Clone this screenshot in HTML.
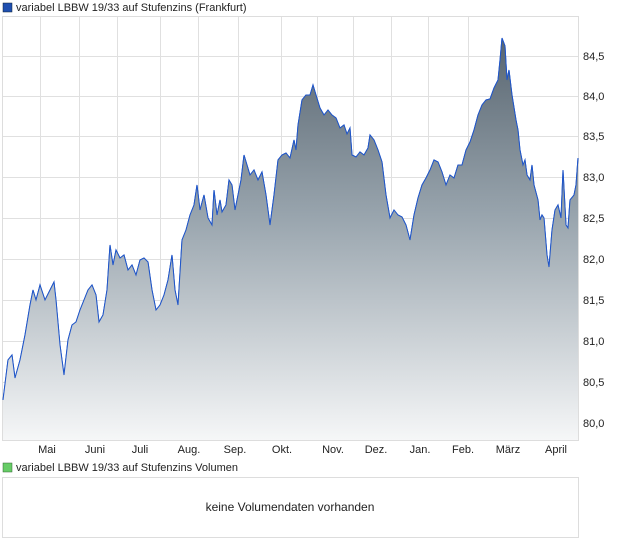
<!DOCTYPE html>
<html><head><meta charset="utf-8"><style>
body{margin:0;background:#fff;font-family:"Liberation Sans",sans-serif;}
</style></head><body>
<svg width="620" height="546" xmlns="http://www.w3.org/2000/svg" font-family="Liberation Sans, sans-serif">
<defs><linearGradient id="g" x1="0" y1="30" x2="0" y2="441" gradientUnits="userSpaceOnUse">
<stop offset="0" stop-color="#56636e"/><stop offset="0.45" stop-color="#98a4ad"/><stop offset="1" stop-color="#f6f7f8"/></linearGradient></defs>
<rect x="3" y="3" width="9" height="9" fill="#1f4fb0" stroke="#123" stroke-width="0.5"/>
<text x="16" y="11" font-size="11" fill="#222">variabel LBBW 19/33 auf Stufenzins (Frankfurt)</text>
<rect x="2.5" y="16.5" width="576" height="424" fill="#fff" stroke="#ddd"/>
<g stroke="#e0e0e0" stroke-width="1">
<line x1="40.5" y1="17" x2="40.5" y2="440"/><line x1="79.5" y1="17" x2="79.5" y2="440"/><line x1="117.5" y1="17" x2="117.5" y2="440"/><line x1="160.5" y1="17" x2="160.5" y2="440"/><line x1="198.5" y1="17" x2="198.5" y2="440"/><line x1="238.5" y1="17" x2="238.5" y2="440"/><line x1="281.5" y1="17" x2="281.5" y2="440"/><line x1="317.5" y1="17" x2="317.5" y2="440"/><line x1="353.5" y1="17" x2="353.5" y2="440"/><line x1="391.5" y1="17" x2="391.5" y2="440"/><line x1="428.5" y1="17" x2="428.5" y2="440"/><line x1="468.5" y1="17" x2="468.5" y2="440"/>
<line x1="3" y1="56.5" x2="578" y2="56.5"/><line x1="3" y1="96.5" x2="578" y2="96.5"/><line x1="3" y1="136.5" x2="578" y2="136.5"/><line x1="3" y1="177.5" x2="578" y2="177.5"/><line x1="3" y1="218.5" x2="578" y2="218.5"/><line x1="3" y1="259.5" x2="578" y2="259.5"/><line x1="3" y1="300.5" x2="578" y2="300.5"/><line x1="3" y1="341.5" x2="578" y2="341.5"/><line x1="3" y1="382.5" x2="578" y2="382.5"/><line x1="3" y1="423.5" x2="578" y2="423.5"/>
</g>
<path id="d" d="M3,400 L8,360 12,355 15,378 20,360 25,335 30,305 33,290 36,300 40,285 45,300 50,290 54,282 56,300 60,345 64,375 68,340 72,325 76,322 80,310 84,300 88,290 92,285 96,295 99,322 103,315 107,290 110,245 113,265 116,250 120,258 124,255 128,270 132,265 136,275 140,260 144,258 148,262 152,290 156,310 160,305 164,295 168,280 172,255 175,290 178,305 182,240 186,230 190,215 194,205 197,185 200,210 204,195 208,218 212,225 214,190 217,215 220,200 222,212 226,205 229,180 232,185 235,210 238,195 241,180 244,155 247,165 250,175 254,170 258,180 262,172 266,195 270,225 274,195 278,160 282,155 286,153 290,158 294,140 296,150 298,125 302,100 306,95 310,95 313,85 316,95 320,108 324,115 328,110 332,115 336,118 340,128 344,125 347,134 350,128 352,155 356,157 360,152 364,155 368,148 370,135 374,140 378,150 382,162 386,195 390,218 394,210 398,215 402,217 406,225 410,240 414,215 418,198 422,185 426,178 430,170 434,160 438,162 442,172 446,185 450,175 454,178 458,165 462,165 466,150 470,142 474,130 478,115 482,105 486,100 490,99 494,88 498,80 500,60 502,38 505,46 507,80 509,70 512,95 516,120 518,130 520,150 523,165 525,160 527,175 530,180 532,165 534,185 538,200 540,220 542,215 544,218 547,255 549,267 552,230 555,210 558,205 561,218 563,170 566,225 568,228 570,200 574,195 576,185 578,158" fill="none" stroke="#1f55c8" stroke-width="1"/>
<path d="M3,400 L8,360 12,355 15,378 20,360 25,335 30,305 33,290 36,300 40,285 45,300 50,290 54,282 56,300 60,345 64,375 68,340 72,325 76,322 80,310 84,300 88,290 92,285 96,295 99,322 103,315 107,290 110,245 113,265 116,250 120,258 124,255 128,270 132,265 136,275 140,260 144,258 148,262 152,290 156,310 160,305 164,295 168,280 172,255 175,290 178,305 182,240 186,230 190,215 194,205 197,185 200,210 204,195 208,218 212,225 214,190 217,215 220,200 222,212 226,205 229,180 232,185 235,210 238,195 241,180 244,155 247,165 250,175 254,170 258,180 262,172 266,195 270,225 274,195 278,160 282,155 286,153 290,158 294,140 296,150 298,125 302,100 306,95 310,95 313,85 316,95 320,108 324,115 328,110 332,115 336,118 340,128 344,125 347,134 350,128 352,155 356,157 360,152 364,155 368,148 370,135 374,140 378,150 382,162 386,195 390,218 394,210 398,215 402,217 406,225 410,240 414,215 418,198 422,185 426,178 430,170 434,160 438,162 442,172 446,185 450,175 454,178 458,165 462,165 466,150 470,142 474,130 478,115 482,105 486,100 490,99 494,88 498,80 500,60 502,38 505,46 507,80 509,70 512,95 516,120 518,130 520,150 523,165 525,160 527,175 530,180 532,165 534,185 538,200 540,220 542,215 544,218 547,255 549,267 552,230 555,210 558,205 561,218 563,170 566,225 568,228 570,200 574,195 576,185 578,158 L578,440 3,440 Z" fill="url(#g)"/>
<use href="#d"/>
<g font-size="11" fill="#222">
<text x="583" y="60">84,5</text><text x="583" y="100">84,0</text><text x="583" y="140">83,5</text><text x="583" y="181">83,0</text><text x="583" y="222">82,5</text><text x="583" y="263">82,0</text><text x="583" y="304">81,5</text><text x="583" y="345">81,0</text><text x="583" y="386">80,5</text><text x="583" y="427">80,0</text>
</g>
<g font-size="11" fill="#222" text-anchor="middle">
<text x="47" y="453">Mai</text><text x="95" y="453">Juni</text><text x="140" y="453">Juli</text><text x="189" y="453">Aug.</text><text x="235" y="453">Sep.</text><text x="282" y="453">Okt.</text><text x="333" y="453">Nov.</text><text x="376" y="453">Dez.</text><text x="420" y="453">Jan.</text><text x="463" y="453">Feb.</text><text x="508" y="453">März</text><text x="556" y="453">April</text>
</g>
<rect x="3" y="463" width="9" height="9" fill="#6c6" stroke="#363" stroke-width="0.5"/>
<text x="16" y="471" font-size="11" fill="#222">variabel LBBW 19/33 auf Stufenzins Volumen</text>
<rect x="2.5" y="477.5" width="576" height="60" fill="#fff" stroke="#ddd"/>
<text x="290" y="511" font-size="12" fill="#222" text-anchor="middle">keine Volumendaten vorhanden</text>
</svg>
</body></html>
